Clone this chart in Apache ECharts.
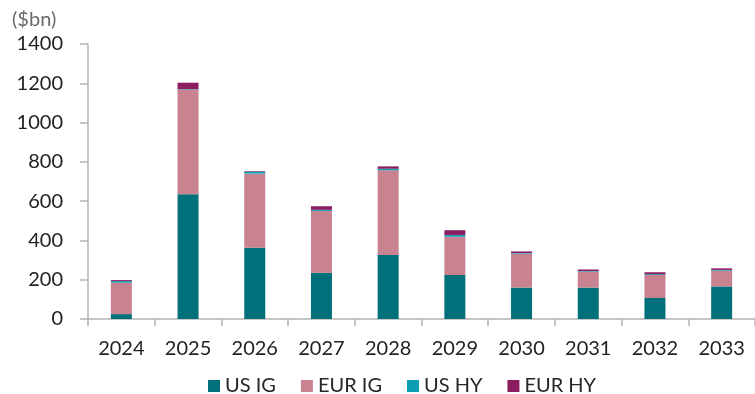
<!DOCTYPE html>
<html>
<head>
<meta charset="utf-8">
<script src="https://cdn.jsdelivr.net/npm/echarts@6/dist/echarts.min.js"></script>
<style>
  html, body { margin: 0; padding: 0; background: #ffffff; }
  #chart { width: 755px; height: 394px; }
</style>
</head>
<body>
<div id="chart"></div>
<script>
// Maturity wall by year, $bn
const years = ['2024', '2025', '2026', '2027', '2028', '2029', '2030', '2031', '2032', '2033'];
const usIG  = [25, 635, 363, 235, 326, 224, 160, 160, 107, 166];
const eurIG = [160, 534, 377, 315, 431, 195, 173, 81, 117, 80];
const usHY  = [8, 2, 10, 6, 8, 9, 3, 3, 4, 4];
const eurHY = [5, 32, 3, 18, 12, 24, 8, 8, 10, 8];
const yTicks = { min: 0, max: 1400, step: 200 };

const FONT = 'Lato, "Open Sans", sans-serif';
const axisGrey = '#B4B4B4';

const seriesDefs = [
  { name: 'US IG',  data: usIG,  color: '#00707B' },
  { name: 'EUR IG', data: eurIG, color: '#C98290' },
  { name: 'US HY',  data: usHY,  color: '#0B9DB3' },
  { name: 'EUR HY', data: eurHY, color: '#8A1C5F' }
];

const chart = echarts.init(document.getElementById('chart'));
chart.setOption({
  animation: false,
  backgroundColor: '#ffffff',
  title: {
    text: '($bn)',
    left: 7,
    top: 5,
    textStyle: { fontFamily: FONT, fontSize: 20, fontWeight: 'normal', color: '#6b6b6b' }
  },
  grid: { left: 88, right: -8, top: 44, bottom: 75, containLabel: false },
  legend: {
    left: 203,
    top: 371,
    itemWidth: 12,
    itemHeight: 12,
    itemGap: 25,
    icon: 'rect',
    textStyle: { fontFamily: FONT, fontSize: 20, color: '#262626' },
    data: seriesDefs.map(s => s.name)
  },
  xAxis: {
    type: 'category',
    data: years,
    axisLine: { lineStyle: { color: axisGrey, width: 1.5 } },
    axisTick: { show: true, alignWithLabel: false, length: 7, lineStyle: { color: axisGrey, width: 1.5 } },
    axisLabel: { fontFamily: FONT, fontSize: 20, color: '#222222', margin: 20 }
  },
  yAxis: {
    type: 'value',
    min: yTicks.min,
    max: yTicks.max,
    interval: yTicks.step,
    splitLine: { show: false },
    axisLine: { show: true, lineStyle: { color: axisGrey, width: 1.5 } },
    axisTick: { show: true, length: 8, lineStyle: { color: axisGrey, width: 1.5 } },
    axisLabel: {
      fontFamily: FONT, fontSize: 20, color: '#222222', margin: 25,
      formatter: v => String(v)
    }
  },
  series: seriesDefs.map(s => ({
    name: s.name,
    type: 'bar',
    stack: 'total',
    barWidth: 21,
    data: s.data,
    itemStyle: { color: s.color }
  }))
});
</script>
</body>
</html>
